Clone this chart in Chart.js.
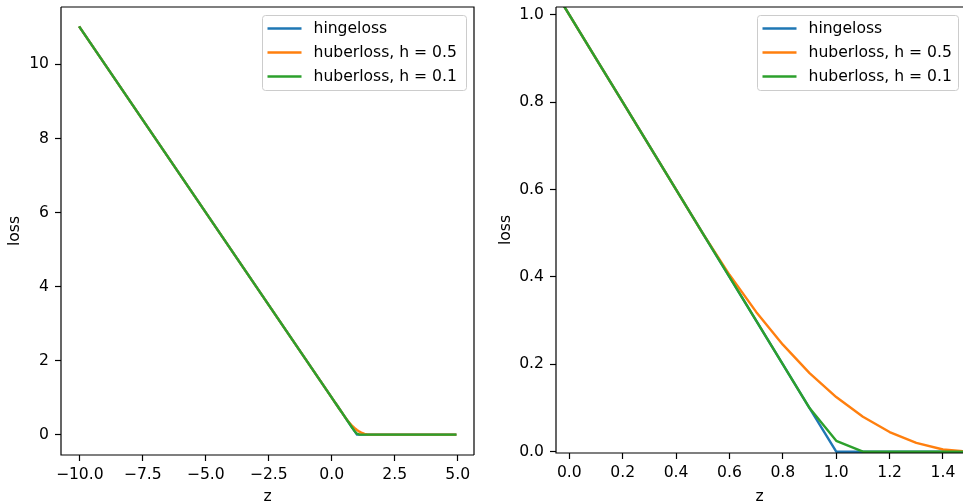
<!DOCTYPE html>
<html>
<head>
<meta charset="utf-8">
<script src="https://cdn.jsdelivr.net/npm/chart.js@4"></script>
<style>
  body { margin: 0; background: #fff; width: 963px; height: 504px; overflow: hidden; position: relative; }
  canvas { position: absolute; top: 0; }
  #full { left: 0; }
  #zoomed { left: 483px; }
</style>
</head>
<body>
<canvas id="full" width="483" height="504"></canvas>
<canvas id="zoomed" width="480" height="504"></canvas>
<script>
// z values and the three losses at those points
const z         = [-10, 0.0, 0.1, 0.2, 0.3, 0.4, 0.5, 0.6,   0.7,  0.8,   0.9,  1.0,   1.1,  1.2,   1.3,  1.4,   1.5, 4.9];
const hingeloss = [11,  1.0, 0.9, 0.8, 0.7, 0.6, 0.5, 0.4,   0.3,  0.2,   0.1,  0.0,   0.0,  0.0,   0.0,  0.0,   0.0, 0.0];
const huber05   = [11,  1.0, 0.9, 0.8, 0.7, 0.6, 0.5, 0.405, 0.32, 0.245, 0.18, 0.125, 0.08, 0.045, 0.02, 0.005, 0.0, 0.0];
const huber01   = [11,  1.0, 0.9, 0.8, 0.7, 0.6, 0.5, 0.4,   0.3,  0.2,   0.1,  0.025, 0.0,  0.0,   0.0,  0.0,   0.0, 0.0];

const seriesNames  = ['hingeloss', 'huberloss, h = 0.5', 'huberloss, h = 0.1'];
const seriesColors = ['#1f77b4', '#ff7f0e', '#2ca02c'];

const fullXTicks  = [-10, -7.5, -5, -2.5, 0, 2.5, 5];
const fullXLabels = ['\u221210.0', '\u22127.5', '\u22125.0', '\u22122.5', '0.0', '2.5', '5.0'];
const fullYTicks  = [0, 2, 4, 6, 8, 10];
const fullYLabels = ['0', '2', '4', '6', '8', '10'];

const zoomXTicks  = [0, 0.2, 0.4, 0.6, 0.8, 1.0, 1.2, 1.4];
const zoomXLabels = ['0.0', '0.2', '0.4', '0.6', '0.8', '1.0', '1.2', '1.4'];
const zoomYTicks  = [0, 0.2, 0.4, 0.6, 0.8, 1.0];
const zoomYLabels = ['0.0', '0.2', '0.4', '0.6', '0.8', '1.0'];

const FONT = 'DejaVu Sans';
const FS = 15.6;
Chart.defaults.font.family = FONT;
Chart.defaults.font.size = FS;
Chart.defaults.color = '#000';

function pts(ys) {
  return z.map((x, i) => ({x: x, y: ys[i]}));
}

function makeDatasets() {
  const ys = [hingeloss, huber05, huber01];
  return ys.map((y, i) => ({
    label: seriesNames[i],
    data: pts(y),
    showLine: true,
    borderColor: seriesColors[i],
    backgroundColor: seriesColors[i],
    borderWidth: 2.4,
    pointRadius: 0,
    borderJoinStyle: 'round',
    borderCapStyle: 'square',
    order: 3 - i
  }));
}

// spines + legend box drawn on top of the lines
const framePlugin = {
  id: 'frame',
  afterDraw(chart, args, opts) {
    const {ctx, chartArea: a} = chart;
    const right = opts.rightSpine ? a.right : a.right + 5;
    ctx.save();
    ctx.strokeStyle = '#000';
    ctx.lineWidth = 1.2;
    ctx.beginPath();
    ctx.moveTo(a.left, a.top);
    ctx.lineTo(a.left, a.bottom);
    ctx.lineTo(right, a.bottom);
    ctx.moveTo(a.left, a.top);
    ctx.lineTo(right, a.top);
    if (opts.rightSpine) ctx.lineTo(right, a.bottom);
    ctx.stroke();

    // legend
    const bx = opts.legendX, by = 15.5, bw = opts.legendW, bh = 75, r = 3;
    ctx.beginPath();
    ctx.moveTo(bx + r, by);
    ctx.arcTo(bx + bw, by, bx + bw, by + bh, r);
    ctx.arcTo(bx + bw, by + bh, bx, by + bh, r);
    ctx.arcTo(bx, by + bh, bx, by, r);
    ctx.arcTo(bx, by, bx + bw, by, r);
    ctx.closePath();
    ctx.fillStyle = 'rgba(255,255,255,0.8)';
    ctx.fill();
    ctx.lineWidth = 1;
    ctx.strokeStyle = '#cccccc';
    ctx.stroke();
    ctx.font = FS + 'px "' + FONT + '"';
    ctx.textBaseline = 'middle';
    ctx.fillStyle = '#000';
    seriesNames.forEach((name, i) => {
      const y = by + 13 + i * 24;
      ctx.strokeStyle = seriesColors[i];
      ctx.lineWidth = 2.4;
      ctx.beginPath();
      ctx.moveTo(bx + 5, y);
      ctx.lineTo(bx + 39, y);
      ctx.stroke();
      ctx.fillText(name, bx + 51, y);
    });
    ctx.restore();
  }
};

function axis(ticks, labels, pad, extra) {
  return Object.assign({
    type: 'linear',
    afterBuildTicks: s => { s.ticks = ticks.map(v => ({value: v})); },
    ticks: {
      autoSkip: false,
      maxRotation: 0,
      padding: pad,
      callback: (v, i) => labels[i]
    },
    grid: {
      drawOnChartArea: false,
      drawTicks: true,
      tickLength: 6,
      tickColor: '#000',
      tickWidth: 1.2
    },
    border: { display: false }
  }, extra);
}

function makeChart(id, cfg) {
  return new Chart(document.getElementById(id), {
    type: 'scatter',
    data: { datasets: makeDatasets() },
    options: {
      responsive: false,
      animation: false,
      layout: { padding: cfg.padding },
      plugins: {
        legend: { display: false },
        tooltip: { enabled: false },
        frame: cfg.frame
      },
      scales: {
        x: axis(cfg.xTicks, cfg.xLabels, 5, {
          min: cfg.xMin, max: cfg.xMax,
          title: { display: true, text: 'z', padding: {top: 0, bottom: -2} },
          afterFit: s => {
            s.height = cfg.xHeight;
            s.paddingLeft = 0; s.paddingRight = 0;
          }
        }),
        y: axis(cfg.yTicks, cfg.yLabels, 6, {
          min: cfg.yMin, max: cfg.yMax,
          title: { display: true, text: 'loss', padding: {top: cfg.yTitlePad, bottom: 0} },
          afterFit: s => {
            s.width = cfg.yWidth;
            s.paddingTop = 0; s.paddingBottom = 0;
          }
        })
      }
    },
    plugins: [framePlugin]
  });
}

makeChart('full', {
  padding: {top: 7, right: 9, left: 0, bottom: 0},
  xMin: -10.745, xMax: 5.645, yMin: -0.55, yMax: 11.55,
  xTicks: fullXTicks, xLabels: fullXLabels,
  yTicks: fullYTicks, yLabels: fullYLabels,
  xHeight: 49, yWidth: 61, yTitlePad: 6,
  frame: { rightSpine: true, legendX: 262.5, legendW: 204 }
});

makeChart('zoomed', {
  padding: {top: 7, right: 0, left: 0, bottom: 0},
  xMin: -0.05, xMax: 1.475, yMin: -0.003, yMax: 1.018,
  xTicks: zoomXTicks, xLabels: zoomXLabels,
  yTicks: zoomYTicks, yLabels: zoomYLabels,
  xHeight: 51, yWidth: 73, yTitlePad: 14,
  frame: { rightSpine: false, legendX: 274.5, legendW: 201 }
});
</script>
</body>
</html>
